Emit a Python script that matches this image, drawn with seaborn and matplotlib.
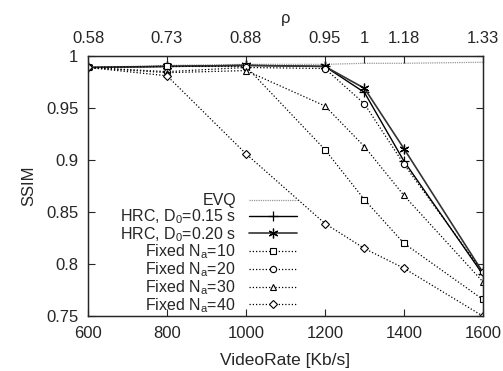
import numpy as np
import pandas as pd
import matplotlib
matplotlib.use("Agg")
import matplotlib.pyplot as plt
import seaborn as sns

# data
video_rate = [600, 800, 1000, 1200, 1300, 1400, 1600]
rho_labels = ["0.58", "0.73", "0.88", "0.95", "1", "1.18", "1.33"]

evq = [0.989, 0.991, 0.992, 0.992, 0.993, 0.993, 0.994]
hrc_015 = [0.989, 0.990, 0.991, 0.990, 0.965, 0.899, 0.790]
hrc_020 = [0.989, 0.990, 0.991, 0.990, 0.969, 0.911, 0.792]
fixed_10 = [0.989, 0.990, 0.990, 0.910, 0.862, 0.820, 0.766]
fixed_20 = [0.989, 0.985, 0.989, 0.988, 0.954, 0.896, 0.792]
fixed_30 = [0.989, 0.984, 0.986, 0.952, 0.913, 0.866, 0.783]
fixed_40 = [0.989, 0.981, 0.906, 0.839, 0.815, 0.796, 0.750]

sns.set_style("ticks")
plt.rcParams["font.family"] = ["Liberation Sans", "DejaVu Sans"]
plt.rcParams["mathtext.default"] = "regular"
plt.rcParams["xtick.direction"] = "in"
plt.rcParams["ytick.direction"] = "in"

fig = plt.figure(figsize=(5.03, 3.71), dpi=100)
ax = fig.add_axes([0.175, 0.148, 0.785, 0.701])

dots = (0, (1, 1.6))
series = [
    ("EVQ", evq, dict(color="#999999", linestyle=(0, (1, 0.8)), lw=0.9, marker=None)),
    ("HRC, D$_0$=0.15 s", hrc_015, dict(color="black", linestyle="-", lw=1.0, marker="+", ms=7, mew=0.9)),
    ("HRC, D$_0$=0.20 s", hrc_020, dict(color="#333333", linestyle="-", lw=1.2, marker=(6, 2, 0), ms=7, mew=0.9)),
    ("Fixed N$_a$=10", fixed_10, dict(color="black", linestyle=dots, lw=0.9, marker="s", ms=4.5, mfc="white", mew=0.8)),
    ("Fixed N$_a$=20", fixed_20, dict(color="black", linestyle=dots, lw=0.9, marker="o", ms=4.5, mfc="white", mew=0.8)),
    ("Fixed N$_a$=30", fixed_30, dict(color="black", linestyle=dots, lw=0.9, marker="^", ms=4.5, mfc="white", mew=0.8)),
    ("Fixed N$_a$=40", fixed_40, dict(color="black", linestyle=dots, lw=0.9, marker="D", ms=3.8, mfc="white", mew=0.8)),
]

for name, vals, kw in series:
    sns.lineplot(x=video_rate, y=vals, ax=ax, label=name, mec="black", **kw)

ax.set_xlim(600, 1600)
ax.set_ylim(0.75, 1.0)
ax.set_xticks([600, 800, 1000, 1200, 1400, 1600])
ax.set_yticks([0.75, 0.8, 0.85, 0.9, 0.95, 1.0])
ax.set_yticklabels(["0.75", "0.8", "0.85", "0.9", "0.95", "1"])
ax.tick_params(axis="both", labelsize=12, length=5, width=0.8, right=True, pad=7)
ax.set_xlabel("VideoRate [Kb/s]", fontsize=12.5, labelpad=9)
ax.set_ylabel("SSIM", fontsize=12, labelpad=7)
for s in ax.spines.values():
    s.set_linewidth(1.0)
    s.set_visible(True)

top = ax.twiny()
top.set_xlim(ax.get_xlim())
top.set_xticks(video_rate)
top.set_xticklabels(rho_labels)
top.tick_params(axis="x", labelsize=12, length=5, width=0.8, direction="in", pad=7)
top.set_xlabel("ρ", fontsize=12, labelpad=6)

ax.legend(loc="lower left", bbox_to_anchor=(0.06, -0.025), frameon=False,
          markerfirst=False, fontsize=11.5, handlelength=3.0, handletextpad=0.8,
          labelspacing=-0.06, borderpad=0.0)

fig.savefig("out.png", dpi=100)
